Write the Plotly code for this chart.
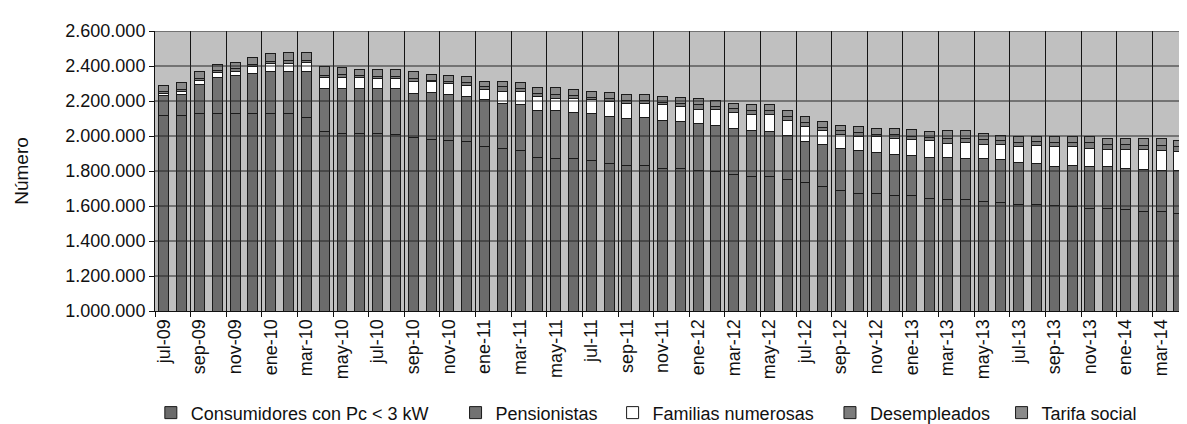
import plotly.graph_objects as go

meses = [
    "jul-09", "ago-09", "sep-09", "oct-09", "nov-09", "dic-09",
    "ene-10", "feb-10", "mar-10", "abr-10", "may-10", "jun-10",
    "jul-10", "ago-10", "sep-10", "oct-10", "nov-10", "dic-10",
    "ene-11", "feb-11", "mar-11", "abr-11", "may-11", "jun-11",
    "jul-11", "ago-11", "sep-11", "oct-11", "nov-11", "dic-11",
    "ene-12", "feb-12", "mar-12", "abr-12", "may-12", "jun-12",
    "jul-12", "ago-12", "sep-12", "oct-12", "nov-12", "dic-12",
    "ene-13", "feb-13", "mar-13", "abr-13", "may-13", "jun-13",
    "jul-13", "ago-13", "sep-13", "oct-13", "nov-13", "dic-13",
    "ene-14", "feb-14", "mar-14", "abr-14", "may-14",
]

consumidores = [
    2118000, 2118000, 2130000, 2130000, 2130000, 2126000, 2130000, 2130000, 2107000, 2025000,
    2014000, 2014000, 2014000, 2008000, 1991000, 1982000, 1976000, 1967000, 1939000, 1926000,
    1920000, 1879000, 1873000, 1869000, 1860000, 1841000, 1832000, 1832000, 1815000, 1813000,
    1804000, 1798000, 1781000, 1770000, 1766000, 1751000, 1733000, 1714000, 1686000, 1673000,
    1669000, 1661000, 1658000, 1645000, 1635000, 1635000, 1626000, 1620000, 1611000, 1611000,
    1603000, 1598000, 1588000, 1585000, 1579000, 1570000, 1570000, 1560000, 1557000,
]
pensionistas = [
    111000, 118000, 163000, 204000, 213000, 230000, 239000, 236000, 259000, 247000,
    258000, 258000, 258000, 264000, 253000, 266000, 259000, 258000, 268000, 258000,
    258000, 268000, 274000, 263000, 266000, 272000, 268000, 272000, 274000, 272000,
    268000, 262000, 263000, 264000, 259000, 251000, 234000, 236000, 240000, 247000,
    236000, 236000, 230000, 234000, 240000, 234000, 245000, 244000, 238000, 230000,
    225000, 234000, 235000, 238000, 234000, 239000, 234000, 244000, 247000,
]
familias = [
    15000, 19000, 24000, 28000, 28000, 43000, 44000, 50000, 52000, 60000,
    60000, 64000, 56000, 56000, 69000, 62000, 67000, 66000, 61000, 73000,
    75000, 78000, 69000, 80000, 81000, 84000, 84000, 80000, 89000, 84000,
    82000, 90000, 91000, 88000, 97000, 87000, 90000, 82000, 84000, 75000,
    90000, 90000, 92000, 93000, 84000, 92000, 83000, 90000, 93000, 103000,
    111000, 107000, 108000, 101000, 111000, 115000, 112000, 108000, 99000,
]
desempleados = [
    9000, 13000, 11000, 13000, 13000, 12000, 13000, 15000, 13000, 15000,
    21000, 11000, 13000, 13000, 15000, 9000, 11000, 13000, 17000, 24000,
    19000, 19000, 22000, 17000, 15000, 19000, 17000, 17000, 15000, 19000,
    24000, 19000, 25000, 23000, 23000, 24000, 22000, 19000, 19000, 24000,
    15000, 19000, 20000, 19000, 27000, 26000, 28000, 18000, 21000, 23000,
    24000, 24000, 32000, 26000, 26000, 20000, 28000, 27000, 32000,
]
tarifa_social = [
    34000, 38000, 38000, 34000, 38000, 37000, 43000, 45000, 45000, 49000,
    41000, 34000, 40000, 40000, 38000, 35000, 34000, 37000, 28000, 32000,
    34000, 32000, 38000, 34000, 31000, 32000, 37000, 37000, 32000, 32000,
    34000, 32000, 28000, 33000, 33000, 32000, 32000, 34000, 33000, 36000,
    32000, 36000, 36000, 36000, 43000, 42000, 33000, 32000, 37000, 28000,
    32000, 32000, 34000, 34000, 34000, 40000, 40000, 37000, 41000,
]

series_names = ["Consumidores con Pc < 3 kW", "Pensionistas", "Familias numerosas",
                "Desempleados", "Tarifa social"]
series_values = [consumidores, pensionistas, familias, desempleados, tarifa_social]
series_colors = ["#6b6b6b", "#727272", "#ffffff", "#7c7c7c", "#8a8a8a"]

y_ticks = [1000000, 1200000, 1400000, 1600000, 1800000, 2000000, 2200000, 2400000, 2600000]

legend_keys = ["legend", "legend2", "legend3", "legend4", "legend5"]
legend_x = [-0.004, 0.289, 0.440, 0.649, 0.814]

fig = go.Figure()
for name, vals, col, lk in zip(series_names, series_values, series_colors, legend_keys):
    fig.add_trace(go.Bar(
        x=meses, y=vals, name=name, legend=lk,
        marker=dict(color=col, line=dict(color="#1a1a1a", width=1)),
    ))

legend_common = dict(orientation="h", y=-0.364, yanchor="middle", xanchor="left",
                     bgcolor="rgba(0,0,0,0)", font=dict(size=18, color="#111"))
layout_legends = {}
for lk, lx in zip(legend_keys, legend_x):
    layout_legends[lk] = dict(legend_common, x=lx)

fig.update_layout(
    width=1187, height=424,
    margin=dict(l=147, r=0, t=23, b=116),
    barmode="stack", bargap=0.44,
    plot_bgcolor="#c0c0c0", paper_bgcolor="white",
    separators=",.",
    font=dict(family="Liberation Sans, Arial, sans-serif", size=18, color="#111"),
    showlegend=True,
    **layout_legends,
)

fig.update_xaxes(
    type="category", range=[-0.5, 57.9],
    tickmode="linear", tick0=0, dtick=2, tickson="boundaries",
    ticks="outside", ticklen=5, tickcolor="#111", tickangle=-90,
    showgrid=True, gridcolor="#141414", gridwidth=1,
    showline=True, linecolor="#111", linewidth=1,
    tickfont=dict(size=18),
)
fig.update_yaxes(
    range=[y_ticks[0], y_ticks[-1]], tickmode="array", tickvals=y_ticks,
    tickformat=",d", ticks="outside", ticklen=5, tickcolor="#111",
    showgrid=False, showline=True, linecolor="#111", linewidth=1,
    tickfont=dict(size=18),
    title=dict(text="Número", font=dict(size=19), standoff=31),
)

for v in y_ticks[1:]:
    fig.add_shape(type="line", xref="paper", x0=0, x1=1, yref="y", y0=v, y1=v,
                  line=dict(color="#262626", width=1), layer="above")

fig.write_html("out.html")
